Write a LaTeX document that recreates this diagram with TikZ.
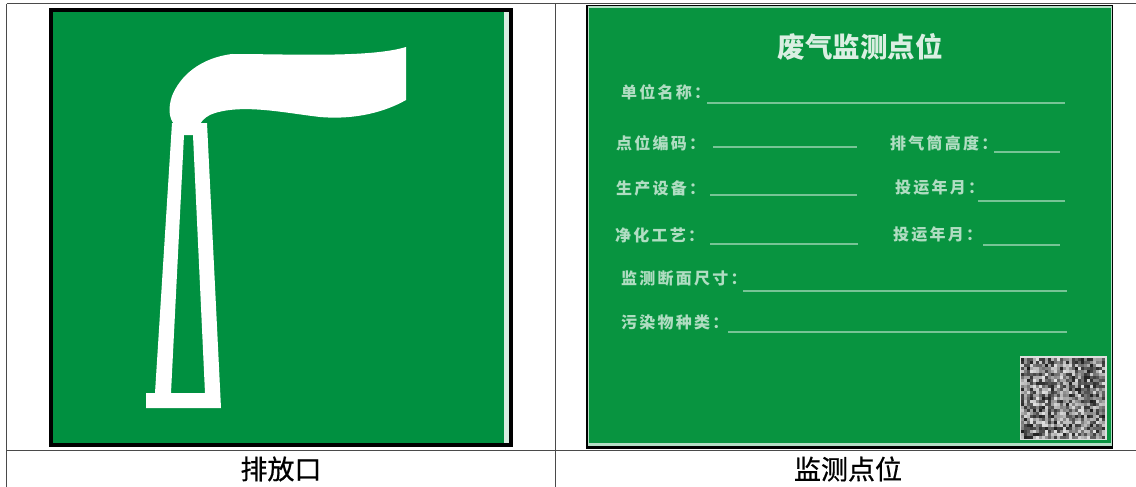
\documentclass[tikz,border=0pt]{standalone}
\usepackage{fontspec}
\newfontfamily\capfont[FakeBold=0.6]{Noto Sans CJK SC}
\newfontfamily\titlefont{Noto Sans CJK SC}
\newfontfamily\labfont[LetterSpace=14]{Noto Sans CJK SC}
\definecolor{signgreen}{HTML}{009040}
\definecolor{cardgreen}{HTML}{089440}
\definecolor{rulegray}{HTML}{4A4A4A}
\tikzset{
  tablerule/.style={draw=rulegray,line width=1pt},
  captiontext/.style={font=\capfont\fontsize{27}{27}\selectfont,text=black,inner sep=0pt},
  cardtitle/.style={font=\titlefont\bfseries\fontsize{27.5}{28}\selectfont,text=white!85!cardgreen,inner sep=0pt},
  labeltext/.style={font=\labfont\bfseries\fontsize{16}{16}\selectfont,text=white!68!cardgreen,anchor=west,inner sep=0pt},
  blankline/.style={draw=white!45!cardgreen,line width=1.3pt}
}
\begin{document}
\begin{tikzpicture}[x=1pt,y=-1pt]
\useasboundingbox (0,0) rectangle (1136,487);
\fill[white] (0,0) rectangle (1136,487);
% table
\draw[tablerule] (6.5,4) -- (1136,4);
\draw[tablerule] (6.5,4) -- (6.5,487);
\draw[tablerule] (555,4) -- (555,487);
\draw[tablerule] (6.5,450) -- (1136,450);
% left sign
\fill[black] (49,8) rectangle (513,447);
\fill[signgreen] (53,12) rectangle (504,443);
\fill[white!85!signgreen] (504,12) rectangle (509,443);
% plume
\fill[white] (406,47) -- (406,100)
  .. controls (385,112) and (355,120) .. (320,117)
  .. controls (285,113) and (245,104) .. (215,113)
  .. controls (208,115) and (203,119) .. (200,124)
  -- (174,124)
  .. controls (169,118) and (168,108) .. (172,96)
  .. controls (180,76) and (200,58) .. (232,54)
  .. controls (290,54) and (370,58) .. (406,47) -- cycle;
% stack
\fill[white,even odd rule]
  (172,123) -- (207,123) -- (221,408) -- (146,408) -- (146,393) -- (155,393) -- cycle
  (184,135) -- (193,135) -- (205,393) -- (171,393) -- cycle;
% right card
\fill[black] (586,5) rectangle (1113,449);
\fill[white!70!cardgreen] (587.5,6.5) rectangle (1111.5,446);
\fill[cardgreen] (588.5,8) rectangle (1110.5,443);
\node[cardtitle] (title) at (860,47) {废气监测点位};
\node[labeltext] (l1) at (621,92) {单位名称：};
\node[labeltext] (l2) at (616,143) {点位编码：};
\node[labeltext] (l3) at (890,143) {排气筒高度：};
\node[labeltext] (l4) at (616,188) {生产设备：};
\node[labeltext] (l5) at (895,188) {投运年月：};
\node[labeltext] (l6) at (615,235) {净化工艺：};
\node[labeltext] (l7) at (893,235) {投运年月：};
\node[labeltext] (l8) at (621,278) {监测断面尺寸：};
\node[labeltext] (l9) at (621,322) {污染物种类：};
\draw[blankline] (707,103) -- (1065,103);
\draw[blankline] (713,147) -- (857,147);
\draw[blankline] (994,152) -- (1060,152);
\draw[blankline] (710,195) -- (857,195);
\draw[blankline] (978,201) -- (1065,201);
\draw[blankline] (710,244) -- (858,244);
\draw[blankline] (983,245) -- (1060,245);
\draw[blankline] (743,291) -- (1067,291);
\draw[blankline] (728,332) -- (1067,332);
% QR-like patch
\fill[white!75!gray] (1020,356) rectangle (1107,440);
\pgfmathsetseed{4217}
\foreach \i in {0,...,27}{
  \foreach \j in {0,...,26}{
    \pgfmathsetmacro{\g}{int(random(12,88))}
    \fill[black!\g!white] ({1021+3*\i},{358+3*\j}) rectangle ++(3,3);
  }
}
% captions
\node[captiontext] (c1) at (281,469) {排放口};
\node[captiontext] (c2) at (848,469) {监测点位};
\end{tikzpicture}
\end{document}
